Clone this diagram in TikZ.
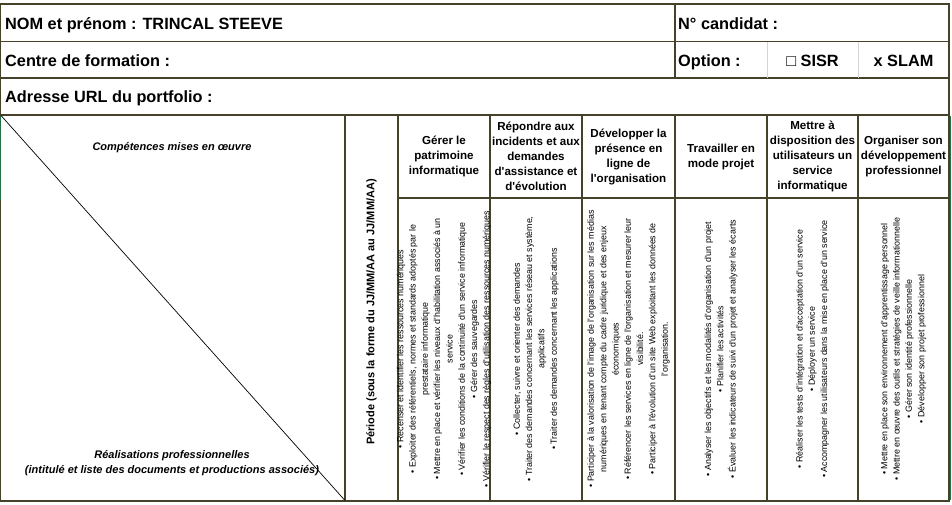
\documentclass[tikz,border=0pt]{standalone}
\usepackage{fontspec}
\setmainfont{Liberation Sans}[Ligatures=TeXOff]
\usepackage{tikz}
\usetikzlibrary{positioning}
\definecolor{gridline}{RGB}{70, 66, 42}
\definecolor{optionline}{RGB}{212, 212, 212}
\definecolor{selectgreen}{RGB}{33, 115, 70}

\begin{document}
\begin{tikzpicture}[x=1pt, y=-1pt,
    heavyline/.style={draw=gridline, line width=2pt},
    cellline/.style={draw=gridline, line width=1.3pt},
    diagline/.style={draw=black, line width=0.7pt},
    fieldtext/.style={inner sep=0pt, font=\fontsize{16.3}{19}\selectfont\bfseries, text=black},
    headtext/.style={align=center, inner sep=0pt, font=\fontsize{11.6}{15}\selectfont\bfseries, text=black},
    captiontext/.style={align=center, inner sep=0pt, font=\fontsize{11}{15}\selectfont\bfseries\itshape, text=black},
    itemtext/.style={align=center, inner sep=0pt, rotate=90, font=\fontsize{8.9}{12.3}\selectfont, text=black}
]
    \useasboundingbox (0,0) rectangle (952,504);

    % Lignes du cadre
    \draw[cellline] (0.8,41.5) -- (949,41.5);
    \draw[cellline] (0.8,78) -- (949,78);
    \draw[cellline] (675,4) -- (675,78);
    \draw[draw=optionline, line width=1pt] (767,41.5) -- (767,78);
    \draw[draw=optionline, line width=1pt] (858,41.5) -- (858,78);
    \draw[cellline] (0.8,4) -- (0.8,500.5);
    \draw[heavyline] (0,4) -- (949,4) -- (949,500.5) -- (0,500.5);
    \draw[heavyline] (0,114.7) -- (949,114.7);
    \draw[draw=selectgreen, line width=1pt] (950.5,116) -- (950.5,500);
    \draw[draw=selectgreen, line width=1pt] (0.5,116) -- (0.5,200);
    \foreach \x in {345,398,490,582,675,767,858}
        \draw[cellline] (\x,114.7) -- (\x,500.5);
    \draw[cellline] (398,198) -- (949,198);
    \draw[diagline] (1,115.5) -- (345,500.5);

    % Champs
    \node[fieldtext, anchor=base west] (nom) at (5,29.3) {NOM et prénom : TRINCAL STEEVE};
    \node[fieldtext, anchor=base west] (centre) at (5,66) {Centre de formation :};
    \node[fieldtext, anchor=base west] (url) at (5,102.7) {Adresse URL du portfolio :};
    \node[fieldtext, anchor=base west] (candidat) at (678,29.3) {N° candidat :};
    \node[fieldtext, anchor=base west] (option) at (678,66) {Option :};
    \node[fieldtext, anchor=base] (sisr) at (812.5,66) {□ SISR};
    \node[fieldtext, anchor=base] (slam) at (903.5,66) {x SLAM};

    % Zone diagonale
    \node[captiontext] (competences) at (172,148) {Compétences mises en œuvre};
    \node[captiontext] (realisations) at (172,463) {Réalisations professionnelles\\
        (intitulé et liste des documents et productions associés)};
    \node[headtext, rotate=90, font=\fontsize{11}{15}\selectfont\bfseries] (periode) at (371.5,312)
        {Période (sous la forme du JJ/MM/AA au JJ/MM/AA)};

    % En-têtes des compétences
    \node[headtext] (patrimoine) at (444,156.5) {Gérer le\\ patrimoine\\ informatique};
    \node[headtext] (incidents) at (536,156.5) {Répondre aux\\ incidents et aux\\ demandes\\ d'assistance et\\ d'évolution};
    \node[headtext] (presence) at (628.5,156.5) {Développer la\\ présence en\\ ligne de\\ l'organisation};
    \node[headtext] (projet) at (721,156.5) {Travailler en\\ mode projet};
    \node[headtext] (service) at (812.5,156.5) {Mettre à\\ disposition des\\ utilisateurs un\\ service\\ informatique};
    \node[headtext] (developpement) at (903.5,156.5) {Organiser son\\ développement\\ professionnel};

    % Activités
    \node[itemtext] (patrimoineitems) at (444,349) {• Recenser et identifier les ressources numériques\\
        • Exploiter des référentiels, normes et standards adoptés par le\\
        prestataire informatique\\
        • Mettre en place et vérifier les niveaux d'habilitation associés à un\\
        service\\
        • Vérifier les conditions de la continuité d'un service informatique\\
        • Gérer des sauvegardes\\
        • Vérifier le respect des règles d'utilisation des ressources numériques};
    \node[itemtext] (incidentsitems) at (536,349) {• Collecter, suivre et orienter des demandes\\
        • Traiter des demandes concernant les services réseau et système,\\
        applicatifs\\
        • Traiter des demandes concernant les applications};
    \node[itemtext] (presenceitems) at (628.5,349) {• Participer à la valorisation de l'image de l'organisation sur les médias\\
        numériques en tenant compte du cadre juridique et des enjeux\\
        économiques\\
        • Référencer les services en ligne de l'organisation et mesurer leur\\
        visibilité.\\
        • Participer à l'évolution d'un site Web exploitant les données de\\
        l'organisation.};
    \node[itemtext] (projetitems) at (721,349) {• Analyser les objectifs et les modalités d'organisation d'un projet\\
        • Planifier les activités\\
        • Évaluer les indicateurs de suivi d'un projet et analyser les écarts};
    \node[itemtext] (serviceitems) at (812.5,349) {• Réaliser les tests d'intégration et d'acceptation d'un service\\
        • Déployer un service\\
        • Accompagner les utilisateurs dans la mise en place d'un service};
    \node[itemtext] (developpementitems) at (903.5,349) {• Mettre en place son environnement d'apprentissage personnel\\
        • Mettre en œuvre des outils et stratégies de veille informationnelle\\
        • Gérer son identité professionnelle\\
        • Développer son projet professionnel};
\end{tikzpicture}
\end{document}
